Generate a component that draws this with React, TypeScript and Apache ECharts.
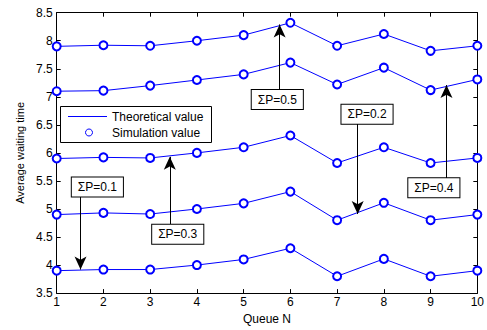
import React, { useEffect, useRef } from "react";
import * as echarts from "echarts";

const queueN = [1, 2, 3, 4, 5, 6, 7, 8, 9, 10];
const seriesP05 = [7.9, 7.92, 7.91, 8.0, 8.1, 8.32, 7.91, 8.12, 7.82, 7.91];
const seriesP04 = [7.1, 7.11, 7.2, 7.3, 7.4, 7.61, 7.22, 7.52, 7.12, 7.31];
const seriesP03 = [5.9, 5.92, 5.91, 6.0, 6.1, 6.31, 5.82, 6.1, 5.82, 5.91];
const seriesP02 = [4.9, 4.93, 4.91, 5.0, 5.1, 5.31, 4.8, 5.11, 4.8, 4.9];
const seriesP01 = [3.9, 3.92, 3.92, 4.0, 4.1, 4.3, 3.8, 4.11, 3.8, 3.9];
const allSeries = [seriesP05, seriesP04, seriesP03, seriesP02, seriesP01];

// annotation: label, box center [x,y], arrow start [x,y], arrow tip [x,y]
const annLabels = ["ΣP=0.5", "ΣP=0.4", "ΣP=0.3", "ΣP=0.2", "ΣP=0.1"];
const annBox = [
  [5.72, 6.95],
  [9.07, 5.38],
  [3.59, 4.55],
  [7.64, 6.69],
  [1.87, 5.39],
];
const annFrom = [
  [5.77, 7.11],
  [9.34, 5.55],
  [3.42, 4.72],
  [7.44, 6.52],
  [1.51, 5.225],
];
const annTip = [
  [5.77, 8.29],
  [9.34, 7.21],
  [3.42, 5.93],
  [7.44, 4.91],
  [1.51, 3.92],
];

const FONT = "Liberation Sans, Arial, sans-serif";
const BLUE = "#0000ff";

export default function App() {
  const ref = useRef<HTMLDivElement>(null);
  useEffect(() => {
    if (!ref.current) return;
    const chart = echarts.init(ref.current, undefined, { renderer: "svg" });
    const series: any[] = [];
    allSeries.forEach((vals) => {
      series.push({
        type: "line",
        data: queueN.map((x, i) => [x, vals[i]]),
        symbol: "emptyCircle",
        symbolSize: 8,
        showSymbol: true,
        showAllSymbol: true,
        color: BLUE,
        lineStyle: { color: BLUE, width: 1 },
        itemStyle: { color: BLUE, borderColor: BLUE, borderWidth: 1 },
        z: 3,
      });
    });
    series.push({
      type: "line",
      data: [],
      markLine: {
        silent: true,
        symbol: ["none", "arrow"],
        symbolSize: [9, 13],
        lineStyle: { color: "#000", width: 1, type: "solid" },
        label: { show: false },
        data: annFrom.map((f, i) => [
          { coord: f },
          { coord: annTip[i] },
        ]),
      },
      markPoint: {
        silent: true,
        symbol: "rect",
        symbolSize: 0,
        label: {
          show: true,
          position: "inside",
          color: "#000",
          fontFamily: FONT,
          fontSize: 12,
          backgroundColor: "#fff",
          borderColor: "#000",
          borderWidth: 1,
          padding: [4, 6, 3, 6],
          formatter: (p: any) => p.name,
        },
        data: annBox.map((c, i) => ({ name: annLabels[i], coord: c })),
      },
      z: 5,
    });

    const axisCommon = {
      axisLine: { show: true, lineStyle: { color: "#000", width: 1 } },
      axisTick: { show: true, inside: true, length: 4, lineStyle: { color: "#000" } },
      splitLine: { show: false },
    };

    chart.setOption({
      animation: false,
      backgroundColor: "#fff",
      grid: { left: 56.7, right: 9.3, top: 12.7, bottom: 28.3 },
      xAxis: [
        {
          type: "value",
          min: 1,
          max: 10,
          interval: 1,
          position: "bottom",
          name: "Queue N",
          nameLocation: "middle",
          nameGap: 19,
          nameTextStyle: { color: "#000", fontFamily: FONT, fontSize: 12 },
          axisLabel: { color: "#000", fontFamily: FONT, fontSize: 12, margin: 3 },
          ...axisCommon,
        },
        {
          type: "value",
          min: 1,
          max: 10,
          interval: 1,
          position: "top",
          axisLabel: { show: false },
          ...axisCommon,
        },
      ],
      yAxis: [
        {
          type: "value",
          min: 3.5,
          max: 8.5,
          interval: 0.5,
          position: "left",
          name: "Average waiting time",
          nameLocation: "middle",
          nameGap: 31,
          nameTextStyle: { color: "#000", fontFamily: FONT, fontSize: 11 },
          axisLabel: { color: "#000", fontFamily: FONT, fontSize: 12, margin: 4 },
          ...axisCommon,
        },
        {
          type: "value",
          min: 3.5,
          max: 8.5,
          interval: 0.5,
          position: "right",
          axisLabel: { show: false },
          ...axisCommon,
        },
      ],
      graphic: [
        {
          type: "group",
          z: 100,
          children: [
            {
              type: "rect",
              shape: { x: 60.5, y: 106.5, width: 151, height: 36 },
              style: { fill: "#fff", stroke: "#000", lineWidth: 1 },
            },
            {
              type: "line",
              shape: { x1: 68, y1: 116.5, x2: 107, y2: 116.5 },
              style: { stroke: BLUE, lineWidth: 1 },
            },
            {
              type: "circle",
              shape: { cx: 89, cy: 132.5, r: 3.5 },
              style: { fill: "#fff", stroke: BLUE, lineWidth: 1 },
            },
            {
              type: "text",
              x: 112,
              y: 117,
              style: {
                text: "Theoretical value",
                fill: "#000",
                font: "12px " + FONT,
                verticalAlign: "middle",
              },
            },
            {
              type: "text",
              x: 112,
              y: 133,
              style: {
                text: "Simulation value",
                fill: "#000",
                font: "12px " + FONT,
                verticalAlign: "middle",
              },
            },
          ],
        },
      ],
      series,
    });
    return () => chart.dispose();
  }, []);
  return (
    <div
      ref={ref}
      style={{ position: "fixed", left: 0, top: 0, width: 487, height: 330 }}
    />
  );
}
